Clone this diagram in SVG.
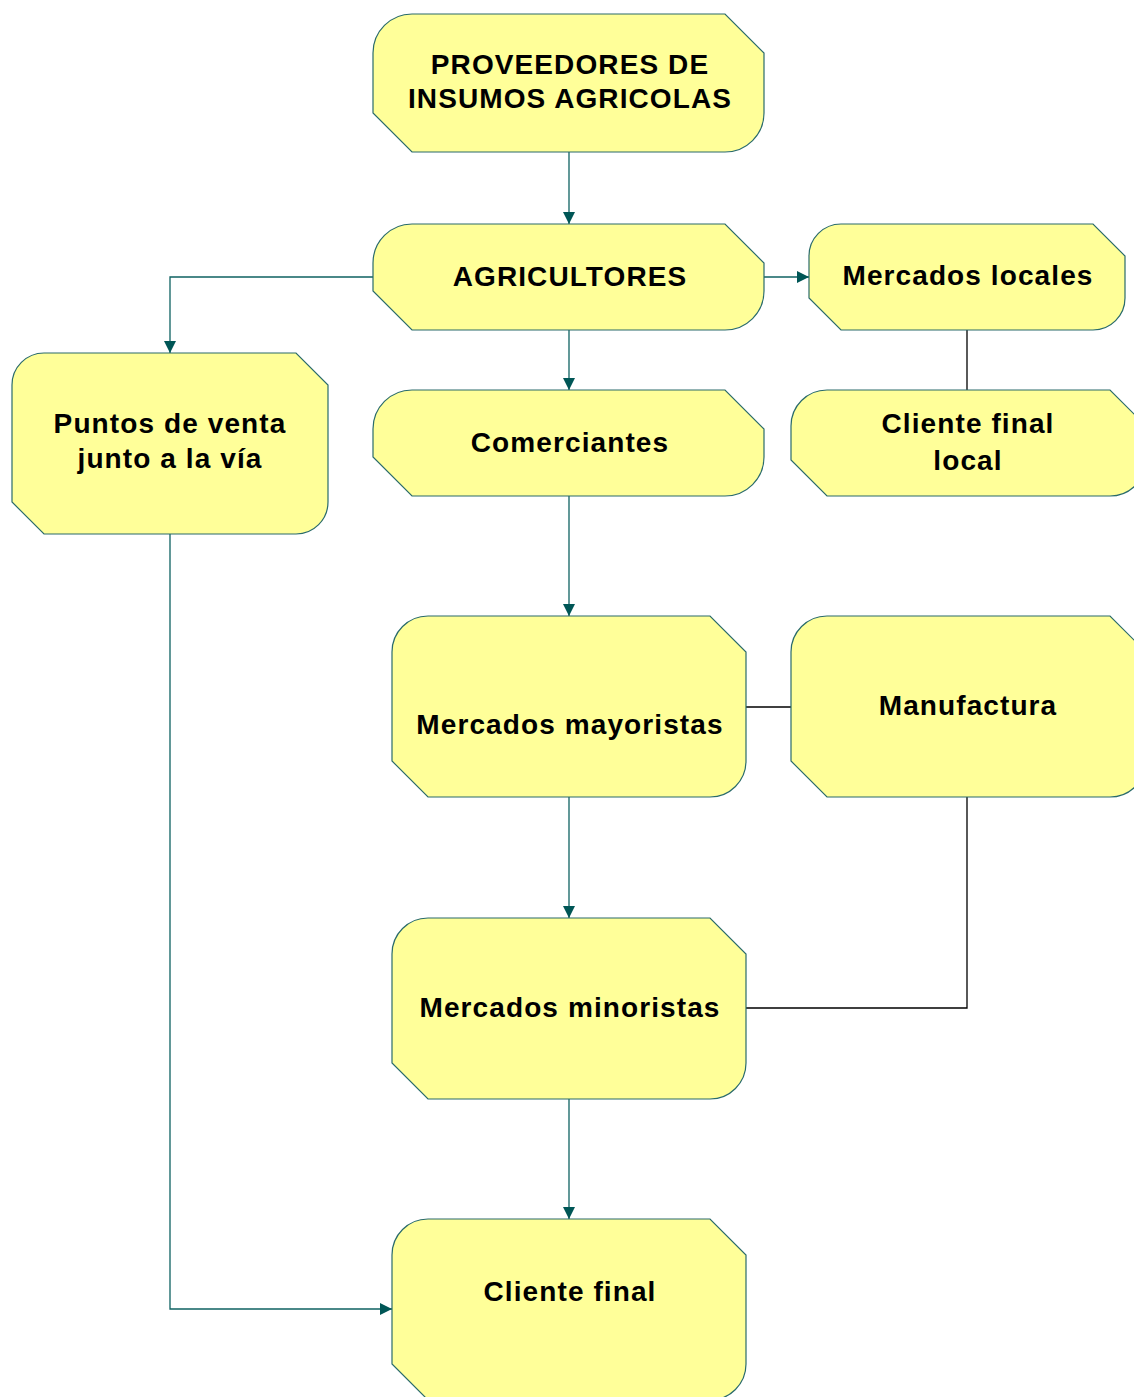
<svg xmlns="http://www.w3.org/2000/svg" width="1134" height="1397" viewBox="0 0 1134 1397">
<style>
.node{fill:#ffff99;stroke:#2a6b6b;stroke-width:1.2}
.lbl{font-family:"Liberation Sans",Arial,sans-serif;font-weight:bold;font-size:28px;letter-spacing:1.1px;fill:#000;text-anchor:middle}
.teal{fill:none;stroke:#0f6262;stroke-width:1.3}
.blk{fill:none;stroke:#000;stroke-width:1.3}
</style>
<defs>
<marker id="arr" viewBox="0 0 12 12" refX="12" refY="6" markerWidth="12" markerHeight="12" markerUnits="userSpaceOnUse" orient="auto">
<path d="M0,0 L12,6 L0,12 Z" fill="#005656"/>
</marker>
</defs>
<rect width="1134" height="1397" fill="#fff"/>
<g id="connectors">
<path class="teal" d="M569,152 V224" marker-end="url(#arr)"/>
<path class="teal" d="M764,277 H809" marker-end="url(#arr)"/>
<path class="teal" d="M373,277 H170 V353" marker-end="url(#arr)"/>
<path class="teal" d="M569,330 V390" marker-end="url(#arr)"/>
<path class="teal" d="M569,496 V616" marker-end="url(#arr)"/>
<path class="teal" d="M569,797 V918" marker-end="url(#arr)"/>
<path class="teal" d="M569,1099 V1219" marker-end="url(#arr)"/>
<path class="teal" d="M170,534 V1309 H392" marker-end="url(#arr)"/>
<path class="blk" d="M967,330 V390"/>
<path class="blk" d="M746,707 H791"/>
<path class="blk" d="M967,797 V1008 H746"/>
</g>
<g id="proveedores">
<path class="node" d="M412,14 H725 L764,53 V113 A39,39 0 0 1 725,152 H412 L373,113 V53 A39,39 0 0 1 412,14 Z"/>
<text class="lbl" x="570" y="74">PROVEEDORES DE</text>
<text class="lbl" x="570" y="108">INSUMOS AGRICOLAS</text>
</g>
<g id="agricultores">
<path class="node" d="M412,224 H725 L764,263 V291 A39,39 0 0 1 725,330 H412 L373,291 V263 A39,39 0 0 1 412,224 Z"/>
<text class="lbl" x="570" y="286">AGRICULTORES</text>
</g>
<g id="comerciantes">
<path class="node" d="M412,390 H725 L764,429 V457 A39,39 0 0 1 725,496 H412 L373,457 V429 A39,39 0 0 1 412,390 Z"/>
<text class="lbl" x="570" y="452">Comerciantes</text>
</g>
<g id="mercados-locales">
<path class="node" d="M841,224 H1093 L1125,256 V298 A32,32 0 0 1 1093,330 H841 L809,298 V256 A32,32 0 0 1 841,224 Z"/>
<text class="lbl" x="968" y="285">Mercados locales</text>
</g>
<g id="cliente-final-local">
<path class="node" d="M827,390 H1110 L1146,426 V460 A36,36 0 0 1 1110,496 H827 L791,460 V426 A36,36 0 0 1 827,390 Z"/>
<text class="lbl" x="968" y="433">Cliente final</text>
<text class="lbl" x="968" y="470">local</text>
</g>
<g id="puntos-de-venta">
<path class="node" d="M44,353 H296 L328,385 V502 A32,32 0 0 1 296,534 H44 L12,502 V385 A32,32 0 0 1 44,353 Z"/>
<text class="lbl" x="170" y="433">Puntos de venta</text>
<text class="lbl" x="170" y="468">junto a la vía</text>
</g>
<g id="mercados-mayoristas">
<path class="node" d="M428,616 H710 L746,652 V761 A36,36 0 0 1 710,797 H428 L392,761 V652 A36,36 0 0 1 428,616 Z"/>
<text class="lbl" x="570" y="734">Mercados mayoristas</text>
</g>
<g id="manufactura">
<path class="node" d="M827,616 H1110 L1146,652 V761 A36,36 0 0 1 1110,797 H827 L791,761 V652 A36,36 0 0 1 827,616 Z"/>
<text class="lbl" x="968" y="715">Manufactura</text>
</g>
<g id="mercados-minoristas">
<path class="node" d="M428,918 H710 L746,954 V1063 A36,36 0 0 1 710,1099 H428 L392,1063 V954 A36,36 0 0 1 428,918 Z"/>
<text class="lbl" x="570" y="1017">Mercados minoristas</text>
</g>
<g id="cliente-final">
<path class="node" d="M428,1219 H710 L746,1255 V1364 A36,36 0 0 1 710,1400 H428 L392,1364 V1255 A36,36 0 0 1 428,1219 Z"/>
<text class="lbl" x="570" y="1301">Cliente final</text>
</g>
</svg>
